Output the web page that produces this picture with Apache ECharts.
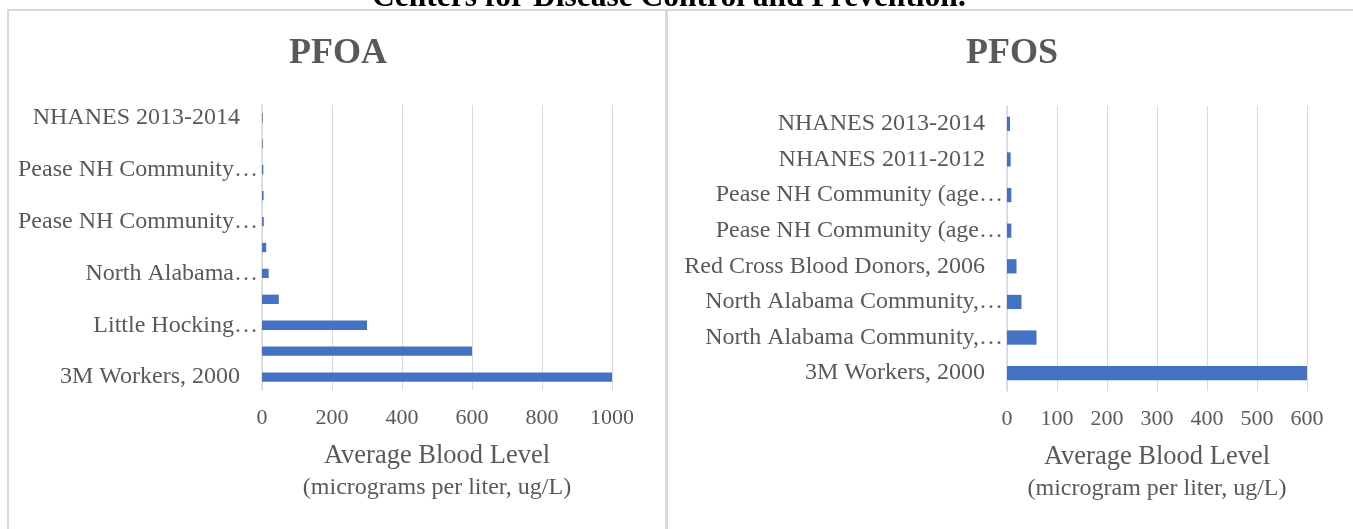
<!DOCTYPE html>
<html>
<head>
<meta charset="utf-8">
<script src="https://cdn.jsdelivr.net/npm/echarts@6/dist/echarts.min.js"></script>
<style>
  html, body { margin: 0; padding: 0; background: #ffffff; }
  #chart { width: 1353px; height: 529px; }
</style>
</head>
<body>
<div id="chart"></div>
<script>
// ---- Data (bottom-to-top order, as drawn on the category axis) ----
const pfoaCategories = [
  '3M Workers, 2000',
  'DuPont Workers, 2004',
  'Little Hocking…',
  'Mid-Ohio Valley Community, 2005',
  'North Alabama…',
  'North Alabama Community, 2016',
  'Pease NH Community…',
  'Red Cross Blood Donors, 2015',
  'Pease NH Community…',
  'NHANES 2011-2012',
  'NHANES 2013-2014'
];
const pfoaValues = [1000, 600, 300, 48, 19, 12, 5, 4.5, 3.8, 2.1, 1.9];

const pfosCategories = [
  '3M Workers, 2000',
  'North Alabama Community,…',
  'North Alabama Community,…',
  'Red Cross Blood Donors, 2006',
  'Pease NH Community (age…',
  'Pease NH Community (age…',
  'NHANES 2011-2012',
  'NHANES 2013-2014'
];
const pfosValues = [600, 59, 29, 19, 8.7, 8.7, 7.3, 6];

const pfoaTicks = { min: 0, max: 1000, interval: 200 };
const pfosTicks = { min: 0, max: 600, interval: 100 };

const titles = ['PFOA', 'PFOS'];
const axisNameLine1 = ['Average Blood Level', 'Average Blood Level'];
const axisNameLine2 = ['(micrograms per liter, ug/L)', '(microgram per liter, ug/L)'];
const topCaption = 'Centers for Disease Control and Prevention.';

// ---- Styles ----
const FONT = '"Liberation Serif", "Times New Roman", serif';
const TXT = '#595959';
const GRID_C = '#d9d9d9';
const BAR_C = '#4472C4';

const chart = echarts.init(document.getElementById('chart'), null, { renderer: 'canvas' });

function valueAxis(gridIndex, ticks, i) {
  return {
    type: 'value', gridIndex: gridIndex,
    min: ticks.min, max: ticks.max, interval: ticks.interval,
    axisLine: { show: false },
    axisTick: { show: false },
    splitLine: { show: true, lineStyle: { color: GRID_C, width: 1 } },
    axisLabel: { color: TXT, fontFamily: FONT, fontSize: 22, margin: 17,
      formatter: function (v) { return String(v); } },
    name: '{a|' + axisNameLine1[i] + '}\n{b|' + axisNameLine2[i] + '}',
    nameLocation: 'middle', nameGap: 51,
    nameTextStyle: {
      color: TXT, fontFamily: FONT, fontSize: 26, lineHeight: 31,
      rich: {
        a: { color: TXT, fontFamily: FONT, fontSize: 26.5, lineHeight: 31 },
        b: { color: TXT, fontFamily: FONT, fontSize: 24, lineHeight: 31 }
      }
    }
  };
}
// Excel lets the ellipsis of truncated labels run up to the axis line
function categoryItems(cats) {
  return cats.map(function (c) {
    return c.slice(-1) === '…'
      ? { value: c, textStyle: { padding: [0, -18, 0, 0] } }
      : c;
  });
}
function categoryAxis(gridIndex, cats, interval) {
  return {
    type: 'category', gridIndex: gridIndex, data: categoryItems(cats),
    axisLine: { show: true, lineStyle: { color: GRID_C, width: 1.5 } },
    axisTick: { show: false },
    axisLabel: { color: TXT, fontFamily: FONT, fontSize: 24, margin: 22, interval: interval }
  };
}

const option = {
  backgroundColor: '#ffffff',
  animation: false,
  title: [
    { text: titles[0], left: 333, top: 31, textAlign: 'center',
      textStyle: { color: TXT, fontFamily: FONT, fontSize: 36, fontWeight: 'bold' } },
    { text: titles[1], left: 1007, top: 31, textAlign: 'center',
      textStyle: { color: TXT, fontFamily: FONT, fontSize: 36, fontWeight: 'bold' } }
  ],
  grid: [
    { left: 262, right: 1353 - 612, top: 105, bottom: 139, containLabel: false, outerBoundsMode: 'none' },
    { left: 1007, right: 46, top: 106, bottom: 138, containLabel: false, outerBoundsMode: 'none' }
  ],
  xAxis: [
    valueAxis(0, pfoaTicks, 0),
    valueAxis(1, pfosTicks, 1)
  ],
  yAxis: [
    categoryAxis(0, pfoaCategories, 1),
    categoryAxis(1, pfosCategories, 0)
  ],
  series: [
    { type: 'bar', xAxisIndex: 0, yAxisIndex: 0, data: pfoaValues,
      barCategoryGap: '64%', itemStyle: { color: BAR_C } },
    { type: 'bar', xAxisIndex: 1, yAxisIndex: 1, data: pfosValues,
      barCategoryGap: '60%', itemStyle: { color: BAR_C } }
  ],
  graphic: [
    { type: 'text', left: 372, top: -18, z: 10,
      style: { text: topCaption, fontFamily: FONT, fontSize: 31.5, fontWeight: 'bold', fill: '#000000' } },
    { type: 'rect', shape: { x: 8, y: 10, width: 658, height: 560 },
      style: { fill: 'none', stroke: GRID_C, lineWidth: 2 }, z: -1 },
    { type: 'rect', shape: { x: 667, y: 10, width: 700, height: 560 },
      style: { fill: 'none', stroke: GRID_C, lineWidth: 2 }, z: -1 }
  ]
};
chart.setOption(option);
</script>
</body>
</html>
